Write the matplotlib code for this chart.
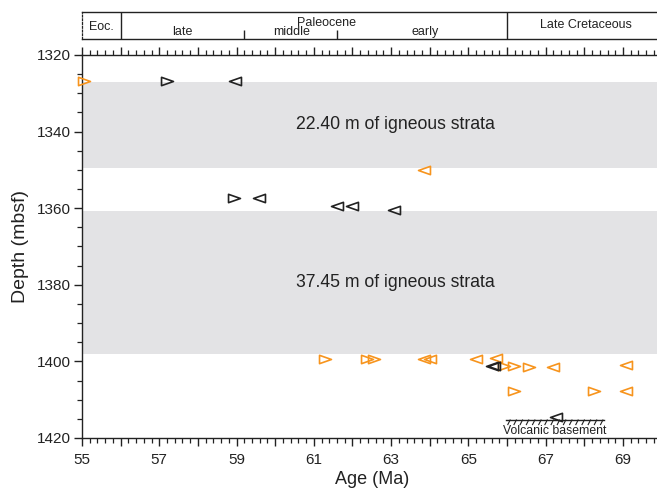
import matplotlib
matplotlib.use("Agg")
import matplotlib.pyplot as plt
import numpy as np
from matplotlib.path import Path
from matplotlib.ticker import MultipleLocator

plt.rcParams["font.family"] = ["Liberation Sans", "DejaVu Sans"]

ORANGE = "#f7941d"
BAND = "#e3e3e5"
INK = "#222222"

# Igneous intervals: top depth (mbsf) and thickness (m)
strata_top = [1327.0, 1360.65]
strata_thick = [22.40, 37.45]

# Sample ages (Ma) and depths (mbsf), split by colour and pointing direction
orange_right_age = [55.05, 61.28, 62.37, 62.56, 65.92, 66.19, 66.58, 66.19, 68.25]
orange_right_depth = [1326.8, 1399.3, 1399.3, 1399.3, 1401.2, 1401.2, 1401.5, 1407.7, 1407.7]
orange_left_age = [63.84, 63.86, 64.0, 65.2, 65.72, 67.2, 69.07, 69.07]
orange_left_depth = [1350.0, 1399.3, 1399.3, 1399.3, 1399.1, 1401.4, 1400.9, 1407.7]
black_right_age = [57.2, 58.94]
black_right_depth = [1326.8, 1357.4]
black_left_age = [58.95, 59.57, 61.59, 62.0, 63.07, 65.61, 65.66, 67.27]
black_left_depth = [1326.8, 1357.4, 1359.4, 1359.4, 1360.6, 1401.2, 1401.2, 1414.4]

# Volcanic basement contact
basement_depth = 1415.3
basement_age_range = [65.97, 68.52]

# Geological time scale
epoch_bounds = [56.0, 66.0]
subepoch_bounds = [59.2, 61.6]
epoch_labels = ["Eoc.", "Paleocene", "Late Cretaceous"]
epoch_label_age = [55.5, 61.34, 68.04]
subepoch_labels = ["late", "middle", "early"]
subepoch_label_age = [57.6, 60.43, 63.88]

xtick_values = list(range(55, 71))
xtick_labels = [str(v) if v % 2 else "" for v in xtick_values]

W, H = 657, 493
fig = plt.figure(figsize=(W / 100, H / 100), dpi=100)
left = 82 / W
bottom = 1 - 438 / H
width = 15 * 38.64 / W
height = (438 - 55) / H
ax = fig.add_axes([left, bottom, width, height])

# triangle markers, wider than tall
tri_right = Path([(-1, 0.7), (1, 0), (-1, -0.7), (-1, 0.7)],
                 [Path.MOVETO, Path.LINETO, Path.LINETO, Path.CLOSEPOLY])
tri_left = Path([(1, 0.7), (-1, 0), (1, -0.7), (1, 0.7)],
                [Path.MOVETO, Path.LINETO, Path.LINETO, Path.CLOSEPOLY])
mk = dict(linestyle="none", markersize=8.6, markeredgewidth=1.2,
          markerfacecolor="none", zorder=3, clip_on=False)

for top, thick in zip(strata_top, strata_thick):
    ax.axhspan(top, top + thick, color=BAND, lw=0, zorder=0)
    ax.text(63.1, top + thick / 2, f"{thick:.2f} m of igneous strata",
            ha="center", va="center", fontsize=12.7, color=INK)

ax.plot(orange_right_age, orange_right_depth, marker=tri_right,
        markeredgecolor=ORANGE, **mk)
ax.plot(orange_left_age, orange_left_depth, marker=tri_left,
        markeredgecolor=ORANGE, **mk)
ax.plot(black_right_age, black_right_depth, marker=tri_right,
        markeredgecolor=INK, **mk)
ax.plot(black_left_age, black_left_depth, marker=tri_left,
        markeredgecolor=INK, **mk)

# basement line with hatching underneath
b0, b1 = basement_age_range
ax.plot([b0, b1], [basement_depth, basement_depth], color=INK, lw=1.0, zorder=2)
for x in np.arange(b0 + 0.05, b1, 0.16):
    ax.plot([x, x + 0.06], [basement_depth + 1.2, basement_depth],
            color=INK, lw=0.8, zorder=2)
ax.text((b0 + b1) / 2, basement_depth + 3.0, "Volcanic basement",
        ha="center", va="center", fontsize=8.8, color=INK)

ax.set_xlim(55, 70)
ax.set_ylim(1420, 1320)
ax.set_xticks(xtick_values)
ax.set_xticklabels(xtick_labels)
ax.xaxis.set_minor_locator(MultipleLocator(0.2))
ax.yaxis.set_major_locator(MultipleLocator(20))
ax.yaxis.set_minor_locator(MultipleLocator(5))
ax.tick_params(axis="x", which="both", top=True, direction="out",
               colors=INK, labelsize=11, pad=5)
ax.tick_params(axis="y", which="both", direction="out", colors=INK,
               labelsize=11, pad=2)
ax.tick_params(which="major", length=5.8, width=1.0)
ax.tick_params(which="minor", length=3.6, width=0.9)
for s in ["left", "bottom", "top"]:
    ax.spines[s].set_color(INK)
    ax.spines[s].set_linewidth(1.0)
ax.spines["right"].set_visible(False)

ax.set_xlabel("Age (Ma)", fontsize=13, color=INK, labelpad=3)
ax.set_ylabel("Depth (mbsf)", fontsize=14, color=INK, labelpad=6)

# time-scale strip above the plot
axt = fig.add_axes([left, 1 - 39.3 / H, width, 27 / H], sharex=ax)
axt.set_ylim(0, 1)
axt.tick_params(which="both", bottom=False, top=False, left=False, right=False,
                labelbottom=False, labelleft=False)
axt.patch.set_alpha(0)
for s in ["top", "bottom"]:
    axt.spines[s].set_color(INK)
    axt.spines[s].set_linewidth(1.0)
axt.spines["left"].set_color(INK)
axt.spines["left"].set_linewidth(0.9)
axt.spines["left"].set_linestyle((0, (1.5, 1.5)))
axt.spines["right"].set_visible(False)
for b in epoch_bounds:
    axt.axvline(b, color=INK, lw=1.0)
axt.vlines(subepoch_bounds, 0, 0.34, color=INK, lw=1.0)
for lab, a, yf in zip(epoch_labels, epoch_label_age, [0.45, 0.62, 0.52]):
    axt.text(a, yf, lab, ha="center", va="center", fontsize=9, color=INK)
for lab, a in zip(subepoch_labels, subepoch_label_age):
    axt.text(a, 0.27, lab, ha="center", va="center", fontsize=9, color=INK)

fig.savefig("out.png", dpi=100)
